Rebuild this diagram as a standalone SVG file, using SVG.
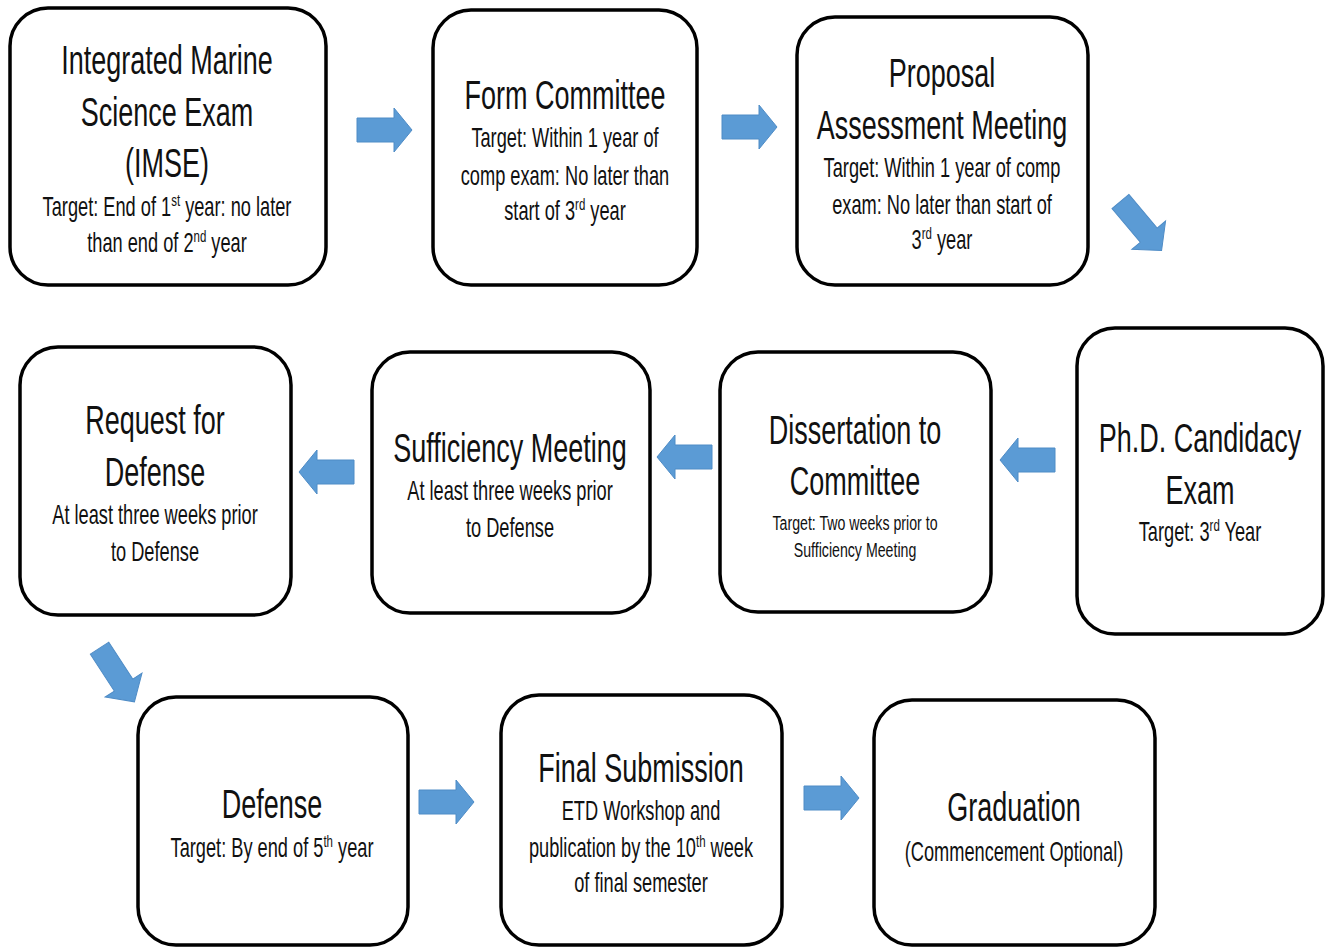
<svg xmlns="http://www.w3.org/2000/svg" xmlns:xlink="http://www.w3.org/1999/xlink" width="1329" height="950" viewBox="0 0 1329 950">
<style>
.box{fill:#fff;stroke:#000;stroke-width:3.5}
.t{font-family:"Liberation Sans",Arial,sans-serif;font-size:40px;fill:#111;text-anchor:middle}
.s{font-family:"Liberation Sans",Arial,sans-serif;font-size:27px;fill:#111;text-anchor:middle}
.xs{font-family:"Liberation Sans",Arial,sans-serif;font-size:21px;fill:#111;text-anchor:middle}
.sup{font-size:17px}
.arrow{fill:#5B9BD5;stroke:#4F8CC6;stroke-width:1}
</style>
<defs>
<path id="arr" d="M-27,-12 L10,-12 L10,-22 L28,0 L10,22 L10,12 L-27,12 Z"/>
<path id="arrD" d="M-32,-11 L12,-11 L12,-22 L32,0 L12,22 L12,11 L-32,11 Z"/>
</defs>
<rect width="1329" height="950" fill="#fff"/>
<g id="connectors" class="arrow">
<use xlink:href="#arr" transform="translate(384,130)"/>
<use xlink:href="#arr" transform="translate(749,127)"/>
<use xlink:href="#arrD" transform="translate(1141,226) rotate(50)"/>
<use xlink:href="#arr" transform="translate(1028,460) rotate(180)"/>
<use xlink:href="#arr" transform="translate(685,457) rotate(180)"/>
<use xlink:href="#arr" transform="translate(327,472) rotate(180)"/>
<use xlink:href="#arrD" transform="translate(117,675) rotate(57)"/>
<use xlink:href="#arr" transform="translate(446,802)"/>
<use xlink:href="#arr" transform="translate(831,798)"/>
</g>
<g id="n1">
<rect class="box" x="10" y="8" width="316" height="277" rx="38"/>
<g transform="translate(167,0) scale(0.675,1)">
<text class="t" x="0" y="74">Integrated Marine</text>
<text class="t" x="0" y="126">Science Exam</text>
<text class="t" x="0" y="177">(IMSE)</text>
<text class="s" x="0" y="216">Target: End of 1<tspan class="sup" dy="-10">st</tspan><tspan dy="10"> year: no later</tspan></text>
<text class="s" x="0" y="252">than end of 2<tspan class="sup" dy="-10">nd</tspan><tspan dy="10"> year</tspan></text>
</g>
</g>
<g id="n2">
<rect class="box" x="433" y="10" width="264" height="275" rx="38"/>
<g transform="translate(565,0) scale(0.675,1)">
<text class="t" x="0" y="109">Form Committee</text>
<text class="s" x="0" y="147">Target: Within 1 year of</text>
<text class="s" x="0" y="185">comp exam: No later than</text>
<text class="s" x="0" y="220">start of 3<tspan class="sup" dy="-10">rd</tspan><tspan dy="10"> year</tspan></text>
</g>
</g>
<g id="n3">
<rect class="box" x="797" y="17" width="291" height="268" rx="38"/>
<g transform="translate(942,0) scale(0.675,1)">
<text class="t" x="0" y="87">Proposal</text>
<text class="t" x="0" y="139">Assessment Meeting</text>
<text class="s" x="0" y="177">Target: Within 1 year of comp</text>
<text class="s" x="0" y="214">exam: No later than start of</text>
<text class="s" x="0" y="249">3<tspan class="sup" dy="-10">rd</tspan><tspan dy="10"> year</tspan></text>
</g>
</g>
<g id="n4">
<rect class="box" x="1077" y="328" width="246" height="306" rx="38"/>
<g transform="translate(1200,0) scale(0.675,1)">
<text class="t" x="0" y="452">Ph.D. Candidacy</text>
<text class="t" x="0" y="504">Exam</text>
<text class="s" x="0" y="541">Target: 3<tspan class="sup" dy="-10">rd</tspan><tspan dy="10"> Year</tspan></text>
</g>
</g>
<g id="n5">
<rect class="box" x="720" y="352" width="271" height="260" rx="38"/>
<g transform="translate(855,0) scale(0.675,1)">
<text class="t" x="0" y="444">Dissertation to</text>
<text class="t" x="0" y="495">Committee</text>
<text class="xs" x="0" y="530">Target: Two weeks prior to</text>
<text class="xs" x="0" y="557">Sufficiency Meeting</text>
</g>
</g>
<g id="n6">
<rect class="box" x="372" y="352" width="278" height="261" rx="38"/>
<g transform="translate(510,0) scale(0.675,1)">
<text class="t" x="0" y="462">Sufficiency Meeting</text>
<text class="s" x="0" y="500">At least three weeks prior</text>
<text class="s" x="0" y="537">to Defense</text>
</g>
</g>
<g id="n7">
<rect class="box" x="20" y="347" width="271" height="268" rx="38"/>
<g transform="translate(155,0) scale(0.675,1)">
<text class="t" x="0" y="434">Request for</text>
<text class="t" x="0" y="486">Defense</text>
<text class="s" x="0" y="524">At least three weeks prior</text>
<text class="s" x="0" y="561">to Defense</text>
</g>
</g>
<g id="n8">
<rect class="box" x="138" y="697" width="270" height="248" rx="38"/>
<g transform="translate(272,0) scale(0.675,1)">
<text class="t" x="0" y="818">Defense</text>
<text class="s" x="0" y="857">Target: By end of 5<tspan class="sup" dy="-10">th</tspan><tspan dy="10"> year</tspan></text>
</g>
</g>
<g id="n9">
<rect class="box" x="501" y="695" width="281" height="250" rx="38"/>
<g transform="translate(641,0) scale(0.675,1)">
<text class="t" x="0" y="782">Final Submission</text>
<text class="s" x="0" y="820">ETD Workshop and</text>
<text class="s" x="0" y="857">publication by the 10<tspan class="sup" dy="-10">th</tspan><tspan dy="10"> week</tspan></text>
<text class="s" x="0" y="892">of final semester</text>
</g>
</g>
<g id="n10">
<rect class="box" x="874" y="700" width="281" height="245" rx="38"/>
<g transform="translate(1014,0) scale(0.675,1)">
<text class="t" x="0" y="821">Graduation</text>
<text class="s" x="0" y="861">(Commencement Optional)</text>
</g>
</g>
</svg>
